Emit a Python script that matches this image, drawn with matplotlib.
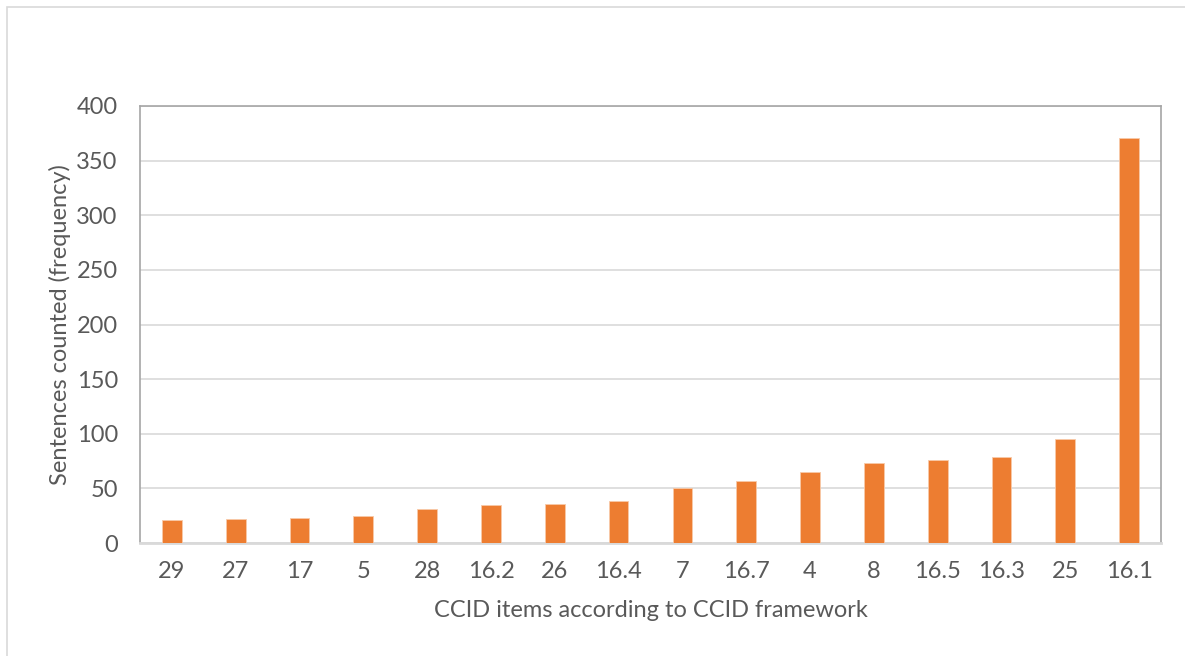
import numpy as np
import matplotlib.pyplot as plt
from matplotlib.patches import Rectangle

# CCID items and sentence counts
items = ['29', '27', '17', '5', '28', '16.2', '26', '16.4', '7', '16.7',
         '4', '8', '16.5', '16.3', '25', '16.1']
counts = [21, 22, 23, 25, 31, 35, 36, 38, 50, 57, 65, 73, 76, 79, 95, 371]

plt.rcParams['font.family'] = ['Lato', 'DejaVu Sans']
txt = '#595959'

fig = plt.figure(figsize=(11.85, 6.56), dpi=100)
ax = fig.add_axes([140/1185, 1 - 543/656, (1161-140)/1185, (543-106)/656])

x = np.arange(len(items))
ax.bar(x, counts, width=0.31, color='#ed7d31', edgecolor='#f8c9a8', linewidth=0.6, zorder=3)

ax.set_xlim(-0.5, len(items) - 0.5)
ax.set_ylim(0, 400)
ax.set_yticks(np.arange(0, 401, 50))
ax.set_xticks(x)
ax.set_xticklabels(items)
ax.tick_params(axis='both', length=0, labelsize=17, colors=txt)
ax.tick_params(axis='x', pad=13)
ax.tick_params(axis='y', pad=16)
ax.grid(axis='y', color='#d9d9d9', linewidth=1.2, zorder=0)

for s in ['left', 'top', 'right']:
    ax.spines[s].set_color('#a6a6a6')
    ax.spines[s].set_linewidth(1.2)
ax.spines['bottom'].set_color('#d9d9d9')
ax.spines['bottom'].set_linewidth(2)

ax.set_xlabel('CCID items according to CCID framework', fontsize=17, color=txt, labelpad=13)
ax.set_ylabel('Sentences counted (frequency)', fontsize=17, color=txt, labelpad=4)

# light outer chart border (only left and top edges show)
fig.patches.append(Rectangle((7/1185, -0.1), 1.2, 1 - 7/656 + 0.1, transform=fig.transFigure,
                             fill=False, edgecolor='#d9d9d9', linewidth=1.2))

fig.savefig('out.png', dpi=100)
